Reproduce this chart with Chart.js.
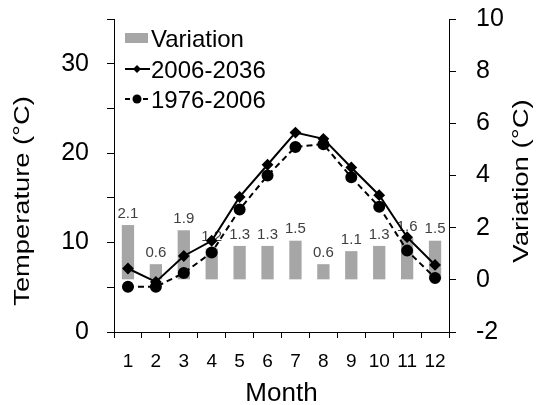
<!DOCTYPE html>
<html><head><meta charset="utf-8">
<script src="https://cdn.jsdelivr.net/npm/chart.js@4"></script>
<style>html,body{margin:0;padding:0;background:#fff}#wrap{width:540px;height:405px}</style>
</head><body><div id="wrap"><canvas id="c" width="540" height="405"></canvas></div>
<script>
const months = ['1','2','3','4','5','6','7','8','9','10','11','12'];
const variation = [2.1, 0.6, 1.9, 1.2, 1.3, 1.3, 1.5, 0.6, 1.1, 1.3, 1.6, 1.5];
const future = [7.1, 5.6, 8.5, 10.2, 15.1, 18.7, 22.3, 21.6, 18.4, 15.3, 10.6, 7.5];
const past = [5.05, 5.05, 6.6, 8.9, 13.7, 17.5, 20.7, 21.0, 17.3, 14.0, 9.1, 6.05];
const seriesNames = ['Variation', '2006-2036', '1976-2006'];
const axisTitles = { x: 'Month', y: 'Temperature (°C)', y1: 'Variation (°C)' };
const FONT = '"Liberation Sans", Arial, sans-serif';

const barLabels = {
  id: 'barLabels',
  afterDatasetDraw(chart, args) {
    if (args.index !== 0) return;
    const ctx = chart.ctx;
    ctx.save();
    ctx.font = '15px ' + FONT;
    ctx.fillStyle = '#404040';
    ctx.textAlign = 'center';
    ctx.textBaseline = 'bottom';
    args.meta.data.forEach((el, i) => {
      ctx.fillText(variation[i].toFixed(1), el.x, el.y - 4);
    });
    ctx.restore();
  }
};

const titlesAndLegend = {
  id: 'titlesAndLegend',
  afterDraw(chart) {
    const ctx = chart.ctx;
    const ca = chart.chartArea;
    ctx.save();
    ctx.fillStyle = '#000';
    ctx.font = '22px ' + FONT;
    ctx.textAlign = 'center';
    ctx.textBaseline = 'alphabetic';
    ctx.save();
    ctx.translate(29, 201); ctx.rotate(-Math.PI / 2); ctx.scale(1.24, 1);
    ctx.fillText(axisTitles.y, 0, 0);
    ctx.restore();
    ctx.save();
    ctx.translate(528, 181); ctx.rotate(-Math.PI / 2); ctx.scale(1.25, 1);
    ctx.fillText(axisTitles.y1, 0, 0);
    ctx.restore();
    ctx.font = '26px ' + FONT;
    ctx.fillText(axisTitles.x, (ca.left + ca.right) / 2, 401);

    ctx.font = '24px ' + FONT;
    ctx.textAlign = 'left';
    ctx.fillStyle = '#a6a6a6';
    ctx.fillRect(125, 33, 23, 10);
    ctx.fillStyle = '#000';
    ctx.fillText(seriesNames[0], 151, 47);
    ctx.strokeStyle = '#000';
    ctx.lineWidth = 2;
    ctx.beginPath(); ctx.moveTo(125, 69); ctx.lineTo(150, 69); ctx.stroke();
    ctx.beginPath(); ctx.moveTo(137, 65); ctx.lineTo(141, 69); ctx.lineTo(137, 73); ctx.lineTo(133, 69); ctx.closePath(); ctx.fill();
    ctx.fillText(seriesNames[1], 151, 78);
    ctx.setLineDash([5, 4]);
    ctx.beginPath(); ctx.moveTo(125, 99); ctx.lineTo(150, 99); ctx.stroke();
    ctx.setLineDash([]);
    ctx.beginPath(); ctx.arc(137, 99, 4.5, 0, Math.PI * 2); ctx.fill();
    ctx.fillText(seriesNames[2], 151, 108);
    ctx.restore();
  }
};

function fixVertical(s, w) {
  s.width = w;
  s.paddingTop = 0;
  s.paddingBottom = 0;
}

new Chart(document.getElementById('c'), {
  data: {
    labels: months,
    datasets: [
      { type: 'bar', label: seriesNames[0], data: variation, yAxisID: 'y1',
        backgroundColor: '#a6a6a6', barPercentage: 0.44, categoryPercentage: 1, order: 3 },
      { type: 'line', label: seriesNames[1], data: future, yAxisID: 'y',
        borderColor: '#000', backgroundColor: '#000', borderWidth: 2,
        pointStyle: 'rectRot', pointRadius: 4.5, tension: 0, order: 1 },
      { type: 'line', label: seriesNames[2], data: past, yAxisID: 'y',
        borderColor: '#000', backgroundColor: '#000', borderWidth: 2, borderDash: [6, 4],
        pointStyle: 'circle', pointRadius: 5, tension: 0, order: 2 }
    ]
  },
  options: {
    responsive: false,
    animation: false,
    layout: { padding: { top: 19, left: 0, right: 0, bottom: 0 } },
    plugins: { legend: { display: false }, tooltip: { enabled: false } },
    scales: {
      x: {
        offset: true,
        grid: { offset: true, drawOnChartArea: false, tickLength: 6, color: '#000' },
        border: { color: '#000', width: 1 },
        ticks: { color: '#000', font: { size: 19, family: FONT }, padding: 12, maxRotation: 0, autoSkip: false },
        afterFit(s) { s.height = 73; s.paddingLeft = 0; s.paddingRight = 0; }
      },
      y: {
        position: 'left', min: 0, max: 35,
        grid: { drawOnChartArea: false, tickLength: 7, color: '#000' },
        border: { color: '#000', width: 1 },
        ticks: { stepSize: 5, color: '#000', font: { size: 25, family: FONT }, padding: 18,
          callback: v => (v % 10 === 0 ? String(v) : '') },
        afterFit(s) { fixVertical(s, 114); }
      },
      y1: {
        position: 'right', min: -2, max: 10,
        grid: { drawOnChartArea: false, tickLength: 7, color: '#000' },
        border: { color: '#000', width: 1 },
        ticks: { stepSize: 1, color: '#000', font: { size: 25, family: FONT }, padding: 20,
          callback: v => (v % 2 === 0 ? String(v) : '') },
        afterFit(s) { fixVertical(s, 91); }
      }
    }
  },
  plugins: [barLabels, titlesAndLegend]
});
</script></body></html>
